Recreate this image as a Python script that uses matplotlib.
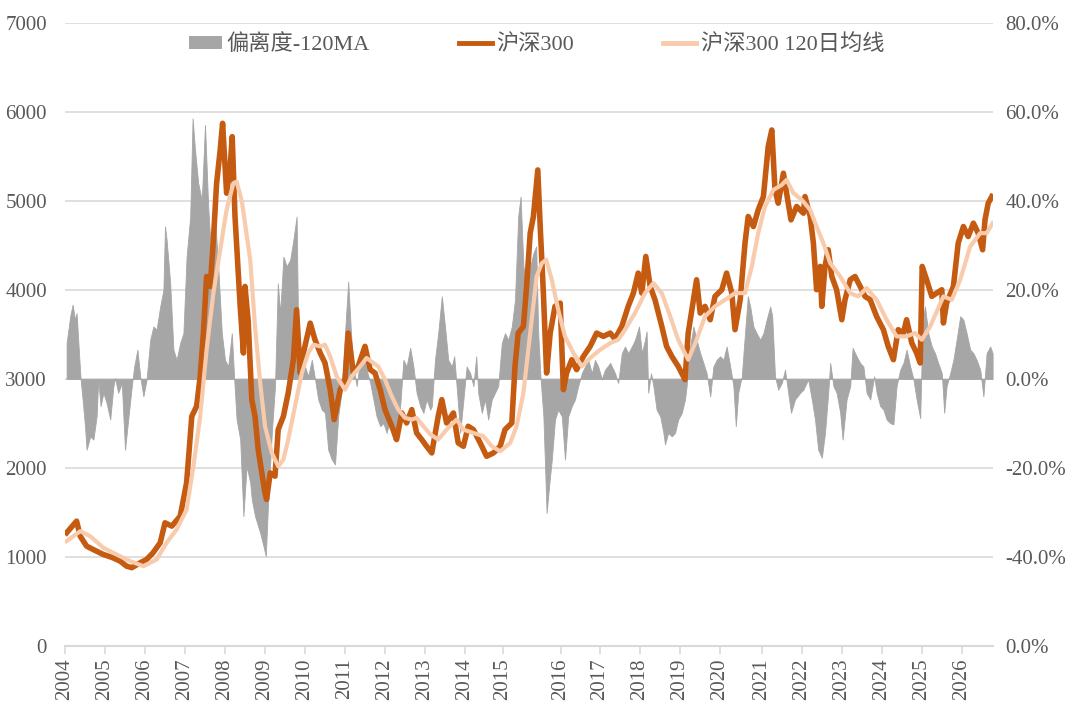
import matplotlib
matplotlib.use("Agg")
import matplotlib.pyplot as plt
from matplotlib.patches import Patch
from matplotlib.lines import Line2D

# ---------------- data (x in chart-year positions) ----------------
price_t = [2004.04, 2004.29, 2004.38, 2004.54, 2004.70, 2004.95, 2005.20, 2005.38, 2005.54, 2005.67,
           2005.88, 2006.04, 2006.20, 2006.38, 2006.50, 2006.67, 2006.88, 2007.04, 2007.17, 2007.29,
           2007.38, 2007.46, 2007.54, 2007.63, 2007.71, 2007.79, 2007.88, 2007.94, 2008.04, 2008.13,
           2008.18, 2008.25, 2008.38, 2008.46, 2008.50, 2008.58, 2008.67, 2008.75, 2008.83, 2008.92,
           2009.00, 2009.04, 2009.13, 2009.25, 2009.33, 2009.46, 2009.58, 2009.71, 2009.79, 2009.88,
           2009.96, 2010.13, 2010.25, 2010.38, 2010.50, 2010.63, 2010.73, 2010.88, 2011.00, 2011.08,
           2011.21, 2011.33, 2011.50, 2011.63, 2011.75, 2011.88, 2012.00, 2012.17, 2012.29, 2012.42,
           2012.54, 2012.67, 2012.79, 2012.92, 2013.04, 2013.17, 2013.33, 2013.42, 2013.54, 2013.71,
           2013.83, 2013.96, 2014.08, 2014.21, 2014.38, 2014.54, 2014.71, 2014.88, 2015.00, 2015.17,
           2015.25, 2015.33, 2015.46, 2015.54, 2015.63, 2015.71, 2015.82, 2015.88, 2015.96, 2016.04,
           2016.13, 2016.25, 2016.38, 2016.46, 2016.54, 2016.67, 2016.79, 2016.96, 2017.13, 2017.29,
           2017.46, 2017.63, 2017.75, 2017.92, 2018.08, 2018.21, 2018.33, 2018.42, 2018.52, 2018.63,
           2018.75, 2018.92, 2019.04, 2019.17, 2019.33, 2019.50, 2019.58, 2019.71, 2019.79, 2019.88,
           2020.00, 2020.13, 2020.25, 2020.42, 2020.54, 2020.67, 2020.75, 2020.88, 2021.00, 2021.08,
           2021.21, 2021.33, 2021.46, 2021.58, 2021.67, 2021.75, 2021.83, 2021.96, 2022.04, 2022.15,
           2022.29, 2022.46, 2022.50, 2022.63, 2022.71, 2022.79, 2022.88, 2022.92, 2023.00, 2023.08,
           2023.17, 2023.29, 2023.42, 2023.50, 2023.63, 2023.75, 2023.88, 2024.00, 2024.13, 2024.29,
           2024.46, 2024.58, 2024.71, 2024.83, 2024.96, 2025.04, 2025.17, 2025.29, 2025.38, 2025.43,
           2025.54, 2025.67, 2025.79, 2025.92, 2025.96, 2026.04, 2026.21, 2026.33, 2026.46, 2026.58,
           2026.71, 2026.83, 2026.94, 2027.00, 2027.08, 2027.17]
price = [1272, 1403, 1234, 1122, 1085, 1030, 991, 953, 897, 880,
         935, 972, 1047, 1160, 1384, 1347, 1459, 1833, 2581, 2693,
         3030, 3516, 4152, 4040, 4564, 5200, 5574, 5873, 5088, 5387,
         5723, 4826, 3816, 3292, 4040, 3650, 2768, 2581, 2207, 1945,
         1721, 1646, 1945, 1908, 2431, 2581, 2843, 3217, 3778, 3067,
         3292, 3628, 3441, 3292, 3180, 2880, 2544, 2880, 2993, 3516,
         3067, 3142, 3367, 3105, 3067, 2880, 2656, 2469, 2319, 2618,
         2506, 2656, 2394, 2319, 2244, 2169, 2581, 2768, 2506, 2618,
         2282, 2244, 2469, 2431, 2282, 2132, 2169, 2244, 2431, 2506,
         3142, 3516, 3591, 4040, 4639, 4826, 5349, 4713, 3965, 3067,
         3516, 3816, 3853, 2880, 3067, 3217, 3105, 3254, 3367, 3516,
         3479, 3516, 3450, 3591, 3816, 3965, 4190, 3965, 4377, 4040,
         3890, 3591, 3367, 3254, 3142, 2993, 3516, 3890, 4115, 3741,
         3816, 3666, 3928, 4003, 4190, 3965, 3554, 3890, 4526, 4826,
         4713, 4900, 5050, 5611, 5798, 5125, 4975, 5312, 5088, 4788,
         4938, 4863, 5050, 4826, 4526, 4003, 4265, 3816, 4265, 4452,
         4152, 4003, 3666, 3890, 4115, 4152, 4040, 3928, 3890, 3703,
         3554, 3367, 3217, 3554, 3516, 3666, 3404, 3292, 3180, 4265,
         4115, 3928, 3965, 4003, 3629, 3853, 4040, 4526, 4713, 4601,
         4751, 4639, 4452, 4788, 4975, 5050]

ma_t = [2004.04, 2004.38, 2004.63, 2004.96, 2005.29, 2005.63, 2005.96, 2006.29, 2006.54, 2006.79,
        2007.04, 2007.21, 2007.38, 2007.54, 2007.71, 2007.88, 2008.04, 2008.21, 2008.29, 2008.42,
        2008.50, 2008.63, 2008.75, 2008.88, 2009.00, 2009.17, 2009.33, 2009.46, 2009.58, 2009.75,
        2009.92, 2010.08, 2010.21, 2010.38, 2010.50, 2010.63, 2010.79, 2011.00, 2011.17, 2011.38,
        2011.54, 2011.71, 2011.83, 2012.00, 2012.17, 2012.33, 2012.50, 2012.67, 2012.79, 2012.96,
        2013.13, 2013.33, 2013.54, 2013.79, 2013.96, 2014.21, 2014.46, 2014.67, 2014.88, 2015.13,
        2015.29, 2015.46, 2015.63, 2015.79, 2015.92, 2016.03, 2016.17, 2016.33, 2016.50, 2016.71,
        2016.92, 2017.13, 2017.38, 2017.63, 2017.83, 2018.00, 2018.25, 2018.50, 2018.71, 2018.92,
        2019.13, 2019.33, 2019.58, 2019.79, 2020.00, 2020.25, 2020.50, 2020.75, 2021.00, 2021.17,
        2021.33, 2021.50, 2021.71, 2021.92, 2022.04, 2022.21, 2022.42, 2022.63, 2022.79, 2022.96,
        2023.13, 2023.38, 2023.63, 2023.83, 2024.04, 2024.29, 2024.54, 2024.79, 2025.04, 2025.25,
        2025.42, 2025.63, 2025.96, 2026.17, 2026.38, 2026.63, 2026.88, 2027.04, 2027.19]
ma120 = [1178, 1290, 1234, 1103, 1028, 953, 897, 972, 1160, 1309,
         1533, 2020, 2581, 3329, 3965, 4452, 4900, 5200, 5218, 5000,
         4750, 4339, 3591, 2955, 2469, 2169, 2020, 2095, 2319, 2693,
         3067, 3292, 3385, 3367, 3385, 3254, 3030, 2880, 3030, 3142,
         3236, 3180, 3142, 2993, 2805, 2656, 2563, 2544, 2563, 2469,
         2380, 2319, 2431, 2544, 2431, 2394, 2357, 2244, 2188, 2282,
         2469, 2843, 3516, 4152, 4302, 4339, 4115, 3778, 3479, 3292,
         3142, 3236, 3329, 3404, 3441, 3554, 3741, 3965, 4077, 3965,
         3703, 3441, 3217, 3441, 3703, 3816, 3890, 3965, 3965, 4265,
         4639, 4938, 5125, 5181, 5237, 5088, 5013, 4900, 4713, 4526,
         4302, 4152, 3965, 3928, 4021, 3890, 3666, 3479, 3479, 3516,
         3441, 3591, 3928, 3890, 4115, 4489, 4639, 4639, 4751]

dev_t = [2004.04, 2004.13, 2004.19, 2004.25, 2004.29, 2004.36, 2004.39, 2004.44, 2004.50, 2004.54,
         2004.63, 2004.71, 2004.79, 2004.83, 2004.89, 2004.96, 2005.04, 2005.13, 2005.21, 2005.25,
         2005.33, 2005.42, 2005.50, 2005.58, 2005.67, 2005.73, 2005.81, 2005.88, 2005.96, 2006.04,
         2006.13, 2006.21, 2006.29, 2006.38, 2006.46, 2006.50, 2006.54, 2006.63, 2006.71, 2006.79,
         2006.88, 2006.96, 2007.04, 2007.13, 2007.19, 2007.25, 2007.33, 2007.42, 2007.50, 2007.58,
         2007.67, 2007.75, 2007.83, 2007.92, 2008.00, 2008.08, 2008.17, 2008.23, 2008.29, 2008.38,
         2008.46, 2008.54, 2008.63, 2008.67, 2008.75, 2008.88, 2008.96, 2009.02, 2009.08, 2009.17,
         2009.25, 2009.32, 2009.38, 2009.46, 2009.54, 2009.63, 2009.71, 2009.79, 2009.83, 2009.92,
         2010.00, 2010.08, 2010.17, 2010.25, 2010.33, 2010.42, 2010.50, 2010.58, 2010.67, 2010.75,
         2010.83, 2010.92, 2011.00, 2011.08, 2011.15, 2011.21, 2011.29, 2011.38, 2011.46, 2011.54,
         2011.63, 2011.71, 2011.79, 2011.88, 2011.96, 2012.04, 2012.13, 2012.21, 2012.29, 2012.38,
         2012.46, 2012.54, 2012.63, 2012.71, 2012.79, 2012.88, 2012.96, 2013.04, 2013.13, 2013.17,
         2013.25, 2013.33, 2013.42, 2013.50, 2013.58, 2013.67, 2013.73, 2013.79, 2013.88, 2013.96,
         2014.04, 2014.13, 2014.21, 2014.28, 2014.33, 2014.42, 2014.50, 2014.58, 2014.67, 2014.75,
         2014.83, 2014.92, 2015.00, 2015.08, 2015.17, 2015.25, 2015.33, 2015.39, 2015.46, 2015.54,
         2015.63, 2015.71, 2015.78, 2015.83, 2015.89, 2015.96, 2016.04, 2016.11, 2016.17, 2016.25,
         2016.33, 2016.42, 2016.50, 2016.58, 2016.67, 2016.75, 2016.83, 2016.92, 2017.00, 2017.08,
         2017.17, 2017.25, 2017.33, 2017.42, 2017.50, 2017.63, 2017.75, 2017.83, 2017.92, 2018.00,
         2018.08, 2018.17, 2018.25, 2018.35, 2018.42, 2018.50, 2018.54, 2018.58, 2018.65, 2018.71,
         2018.79, 2018.88, 2018.96, 2019.00, 2019.08, 2019.17, 2019.25, 2019.33, 2019.42, 2019.50,
         2019.54, 2019.63, 2019.71, 2019.79, 2019.88, 2019.96, 2020.04, 2020.13, 2020.21, 2020.29,
         2020.38, 2020.46, 2020.54, 2020.63, 2020.71, 2020.77, 2020.83, 2020.92, 2021.00, 2021.07,
         2021.13, 2021.21, 2021.29, 2021.38, 2021.46, 2021.54, 2021.63, 2021.68, 2021.75, 2021.83,
         2021.92, 2022.00, 2022.08, 2022.15, 2022.25, 2022.38, 2022.46, 2022.50, 2022.58, 2022.67,
         2022.75, 2022.83, 2022.92, 2023.00, 2023.08, 2023.13, 2023.21, 2023.29, 2023.38, 2023.44,
         2023.54, 2023.63, 2023.69, 2023.79, 2023.88, 2023.96, 2024.04, 2024.13, 2024.23, 2024.29,
         2024.38, 2024.46, 2024.54, 2024.63, 2024.71, 2024.79, 2024.88, 2024.96, 2025.04, 2025.13,
         2025.21, 2025.29, 2025.38, 2025.44, 2025.50, 2025.58, 2025.67, 2025.75, 2025.83, 2025.92,
         2025.98, 2026.04, 2026.13, 2026.21, 2026.29, 2026.38, 2026.46, 2026.54, 2026.63, 2026.71,
         2026.79, 2026.88, 2026.96, 2027.04, 2027.13, 2027.19]
deviation = [8.1, 14.1, 16.7, 13.3, 14.8, 4.3, 0.0, -4.6, -10.6, -15.9,
             -12.9, -13.6, -8.4, -0.1, -6.1, -3.1, -5.4, -9.1, -1.6, 0.2,
             -3.1, -0.9, -15.9, -9.1, -1.6, 2.8, 6.6, 0.6, -3.9, -0.1,
             8.8, 11.8, 11.1, 16.3, 20.0, 34.3, 31.3, 21.5, 6.6, 4.3,
             8.1, 10.3, 27.5, 36.5, 58.6, 51.5, 44.0, 40.2, 57.1, 38.7,
             25.3, 36.5, 25.3, 10.3, 4.3, 2.8, 10.3, 0.0, -9.1, -13.6,
             -30.8, -19.6, -23.3, -27.1, -30.8, -34.6, -37.5, -39.8, -27.1, -12.1,
             -1.6, 21.5, 14.8, 27.5, 25.3, 26.8, 31.3, 36.5, 10.3, 0.0,
             2.8, 0.6, 4.3, 0.0, -4.6, -6.9, -7.6, -15.9, -18.1, -19.2,
             -8.4, -2.4, 10.3, 21.9, 10.3, 2.8, -1.6, 4.3, 5.8, 2.1,
             -0.9, -4.6, -8.4, -10.6, -9.9, -12.1, -9.1, -13.6, -12.1, -6.1,
             4.3, 2.8, 7.0, 2.8, -3.1, -6.1, -7.6, -4.6, -6.9, -6.1,
             4.3, 10.3, 18.6, 11.8, 4.3, 2.8, 5.1, -1.6, -12.1, -4.6,
             2.8, 1.3, -1.6, 5.1, -3.1, -7.6, -4.6, -9.1, -4.6, -3.1,
             -1.6, 8.1, 10.3, 8.8, 11.8, 17.8, 36.5, 41.0, 25.3, 20.8,
             25.3, 28.3, 29.8, 10.3, 0.0, -8.4, -30.1, -23.3, -18.1, -9.1,
             -6.9, -8.4, -18.1, -8.4, -6.1, -4.6, -1.6, 1.3, 2.8, 4.3,
             1.3, 4.3, 2.8, 0.0, 2.1, 3.6, 1.3, -0.9, 5.8, 7.3,
             5.8, 7.3, 8.8, 11.8, 5.8, 8.8, 10.7, -3.1, 1.3, -1.6,
             -6.9, -8.4, -12.1, -14.7, -12.1, -12.9, -12.1, -9.1, -7.6, -4.6,
             -1.6, 7.3, 11.8, 8.8, 5.8, 3.6, 1.3, -3.9, 2.8, 4.3,
             5.1, 4.3, 7.3, 2.8, -1.6, -10.6, -3.1, 0.6, 10.3, 18.6,
             16.3, 11.8, 10.3, 8.8, 10.3, 13.3, 16.3, 14.1, 0.6, -2.4,
             -0.9, 2.1, -3.1, -7.6, -4.6, -3.1, -2.4, -1.6, -0.1, -4.6,
             -9.1, -15.9, -17.7, -12.1, -3.1, 3.6, -1.6, -3.1, -7.6, -13.6,
             -4.6, -1.6, 7.0, 5.1, 3.6, 2.8, -3.1, -4.6, 0.6, -3.1,
             -6.1, -6.9, -9.1, -9.9, -10.2, -1.6, 2.1, 3.6, 6.6, 2.8,
             0.0, -4.6, -8.8, 13.3, 16.3, 10.3, 7.3, 5.8, 3.6, 1.3,
             -7.6, -1.6, 1.3, 4.3, 8.8, 14.1, 13.3, 10.3, 6.6, 5.8,
             4.3, 2.1, -3.9, 5.8, 7.3, 5.8]

year_labels = [str(y) for y in range(2004, 2027)]
year_ticks = [2004.0, 2005.0, 2006.0, 2007.0, 2008.0, 2009.0, 2010.0, 2011.0, 2012.0, 2013.0,
              2014.0, 2014.95, 2016.4, 2017.375, 2018.375, 2019.375, 2020.375, 2021.425,
              2022.425, 2023.425, 2024.425, 2025.425, 2026.425]
left_ticks = [0, 1000, 2000, 3000, 4000, 5000, 6000, 7000]
right_ticks = [-60, -40, -20, 0, 20, 40, 60, 80]
right_labels = ['0.0%', '-40.0%', '-20.0%', '0.0%', '20.0%', '40.0%', '60.0%', '80.0%']

# ---------------- style ----------------
C_BAR = '#a6a6a6'
C_PRICE = '#c55a11'
C_MA = '#f8cbad'
C_TXT = '#595959'
C_GRID = '#d9d9d9'
FONT = ['Liberation Serif', 'Noto Sans CJK SC']
plt.rcParams['font.family'] = FONT

fig = plt.figure(figsize=(10.8, 7.18), dpi=100)
ax = fig.add_axes([65 / 1080, 1 - 646 / 718, 928 / 1080, 623 / 718])
ax2 = ax.twinx()

# deviation bars on the right axis (drawn behind)
ax2.fill_between(dev_t, 0, deviation, color=C_BAR, linewidth=0.6, edgecolor=C_BAR, zorder=1)
ax2.set_ylim(-60, 80)
ax2.set_yticks(right_ticks)
ax2.set_yticklabels(right_labels)

# lines on the primary axis, above the bars
ax.set_zorder(ax2.get_zorder() + 1)
ax.patch.set_visible(False)

ax.plot(price_t, price, color=C_PRICE, lw=4.0, solid_joinstyle='round', zorder=3)
ax.plot(ma_t, ma120, color=C_MA, lw=3.0, solid_joinstyle='round', zorder=4)

ax.set_xlim(2004.0, 2027.2)
ax.set_ylim(0, 7000)
ax.set_yticks(left_ticks)
ax.set_xticks(year_ticks)
ax.set_xticklabels(year_labels, rotation=90)

# gridlines drawn on ax2 so they sit behind the bars
for y in right_ticks[1:]:
    ax2.axhline(y, color=C_GRID, lw=1.2, zorder=0)

for a in (ax, ax2):
    for s in ('top', 'right', 'left', 'bottom'):
        a.spines[s].set_visible(False)
ax.spines['bottom'].set_visible(True)
ax.spines['bottom'].set_color(C_GRID)
ax.spines['bottom'].set_linewidth(1.5)

ax.tick_params(axis='y', length=0, pad=13, labelsize=15, labelcolor=C_TXT)
ax.tick_params(axis='x', length=6, width=1.2, color=C_GRID, pad=3, labelsize=15, labelcolor=C_TXT)
ax2.tick_params(axis='y', length=0, pad=9, labelsize=15, labelcolor=C_TXT)

handles = [Patch(facecolor=C_BAR, edgecolor='none'),
           Line2D([0], [0], color=C_PRICE, lw=3.5),
           Line2D([0], [0], color=C_MA, lw=3.5)]
labels = ['偏离度-120MA', '沪深300', '沪深300 120日均线']
leg = ax.legend(handles, labels, loc='center', bbox_to_anchor=(0.508, 0.965), ncol=3,
                frameon=False, fontsize=16, handlelength=1.5, handleheight=0.5,
                handletextpad=0.2, columnspacing=4.0, labelcolor=C_TXT)

fig.savefig('out.png', dpi=100)
